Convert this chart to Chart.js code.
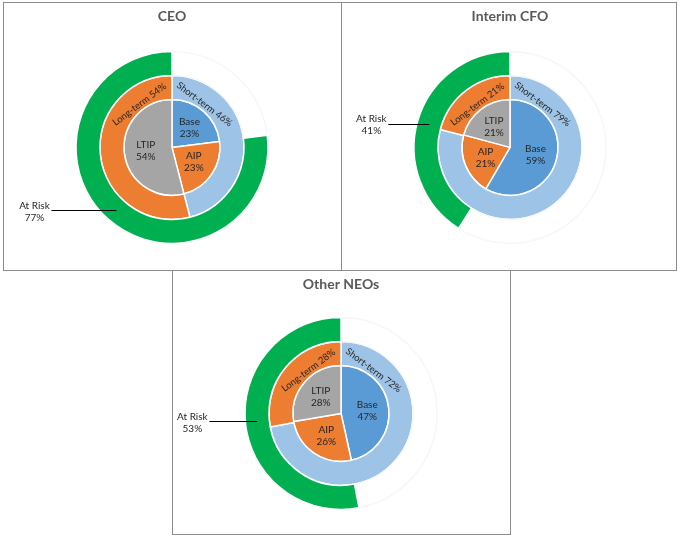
<!DOCTYPE html>
<html>
<head>
<meta charset="utf-8">
<script src="https://cdn.jsdelivr.net/npm/chart.js@4.4.1/dist/chart.umd.min.js"></script>
<style>
  body { margin: 0; background: #fff; }
  .panel { position: absolute; border: 1px solid #8c8c8c; background: #fff; }
  .panel canvas { display: block; }
</style>
</head>
<body>
<div class="panel" style="left:3px;top:2px;width:337px;height:267px"><canvas id="ceo" width="337" height="267"></canvas></div>
<div class="panel" style="left:341px;top:2px;width:334px;height:267px"><canvas id="cfo" width="334" height="267"></canvas></div>
<div class="panel" style="left:172px;top:270px;width:337px;height:263px"><canvas id="neo" width="337" height="263"></canvas></div>
<script>
// pay mix per executive group, in percent
const payLabels = ['Base', 'AIP', 'LTIP']
const termLabels = ['Short-term', 'Long-term']
const riskLabels = ['', 'At Risk']

const ceoPay = [23, 23, 54]
const ceoTerm = [46, 54]
const ceoRisk = [23, 77]

const cfoPay = [59, 21, 21]
const cfoTerm = [79, 21]
const cfoRisk = [59, 41]

const neoPay = [47, 26, 28]
const neoTerm = [72, 28]
const neoRisk = [47, 53]

const payColors = ['#5b9bd5', '#ed7d31', '#a5a5a5']
const termColors = ['#9dc3e6', '#ed7d31']
const riskColors = ['rgba(255,255,255,0)', '#00b050']

const FONT = 'Lato, "Open Sans", sans-serif'
const DEG = Math.PI / 180

// draws the slice labels, the slanted ring labels and the "At Risk" callout
const ringLabels = {
  id: 'ringLabels',
  afterDatasetsDraw(chart, args, opts) {
    const ctx = chart.ctx
    ctx.save()
    ctx.fillStyle = '#262626'
    ctx.textAlign = 'center'
    ctx.textBaseline = 'middle'
    ctx.font = '10px ' + FONT

    const pay = chart.getDatasetMeta(2)
    const payVals = chart.data.datasets[2].data
    pay.data.forEach((arc, i) => {
      const a = (arc.startAngle + arc.endAngle) / 2
      const r = arc.outerRadius * 0.55
      const px = arc.x + Math.cos(a) * r
      const py = arc.y + Math.sin(a) * r
      ctx.fillText(payLabels[i], px, py - 6)
      ctx.fillText(payVals[i] + '%', px, py + 6)
    })

    const term = chart.getDatasetMeta(1)
    const termVals = chart.data.datasets[1].data
    ctx.font = '9.5px ' + FONT
    term.data.forEach((arc, i) => {
      const a = -Math.PI / 2 + (i === 0 ? 37 : -37) * DEG
      const r = (arc.innerRadius + arc.outerRadius) / 2 - 6
      ctx.save()
      ctx.translate(arc.x + Math.cos(a) * r, arc.y + Math.sin(a) * r)
      ctx.rotate(a + Math.PI / 2)
      ctx.fillText(termLabels[i] + ' ' + termVals[i] + '%', 0, 0)
      ctx.restore()
    })

    ctx.font = '10px ' + FONT
    const risk = chart.getDatasetMeta(0).data[1]
    const riskVal = chart.data.datasets[0].data[1]
    const p = risk.tooltipPosition()
    const x0 = p.x - opts.leader
    ctx.strokeStyle = '#000'
    ctx.lineWidth = 1
    ctx.beginPath()
    ctx.moveTo(x0, Math.round(p.y) + 0.5)
    ctx.lineTo(p.x, Math.round(p.y) + 0.5)
    ctx.stroke()
    ctx.fillText(riskLabels[1], x0 - 17, p.y - 5)
    ctx.fillText(riskVal + '%', x0 - 17, p.y + 7)
    ctx.restore()
  },
}

function makeChart(id, title, pay, term, risk, leader, pad) {
  return new Chart(document.getElementById(id), {
    type: 'doughnut',
    data: {
      labels: payLabels,
      datasets: [
        {
          label: 'At Risk',
          data: risk,
          backgroundColor: riskColors,
          borderColor: ['#f7f7f7', '#ffffff'],
          borderWidth: 1.5,
          weight: 1,
        },
        {
          label: 'Term',
          data: term,
          backgroundColor: termColors,
          borderColor: '#ffffff',
          borderWidth: 1.5,
          weight: 1,
        },
        {
          label: 'Pay',
          data: pay,
          backgroundColor: payColors,
          borderColor: '#ffffff',
          borderWidth: 1.5,
          weight: 2,
        },
      ],
    },
    options: {
      responsive: false,
      animation: false,
      events: [],
      cutout: 0,
      radius: 96,
      layout: { padding: pad },
      plugins: {
        legend: { display: false },
        tooltip: { enabled: false },
        title: {
          display: true,
          text: title,
          color: '#595959',
          font: { family: FONT, size: 14, weight: 'bold' },
          padding: { top: 5, bottom: 0 },
        },
        ringLabels: { leader: leader },
      },
    },
    plugins: [ringLabels],
  })
}

makeChart('ceo', 'CEO', ceoPay, ceoTerm, ceoRisk, 65, { left: 0, right: 1, top: 0, bottom: 0 })
makeChart('cfo', 'Interim CFO', cfoPay, cfoTerm, cfoRisk, 41, { left: 2, right: 0, top: 0, bottom: 0 })
makeChart('neo', 'Other NEOs', neoPay, neoTerm, neoRisk, 48, { left: 0, right: 1, top: 0, bottom: 0 })
</script>
</body>
</html>
